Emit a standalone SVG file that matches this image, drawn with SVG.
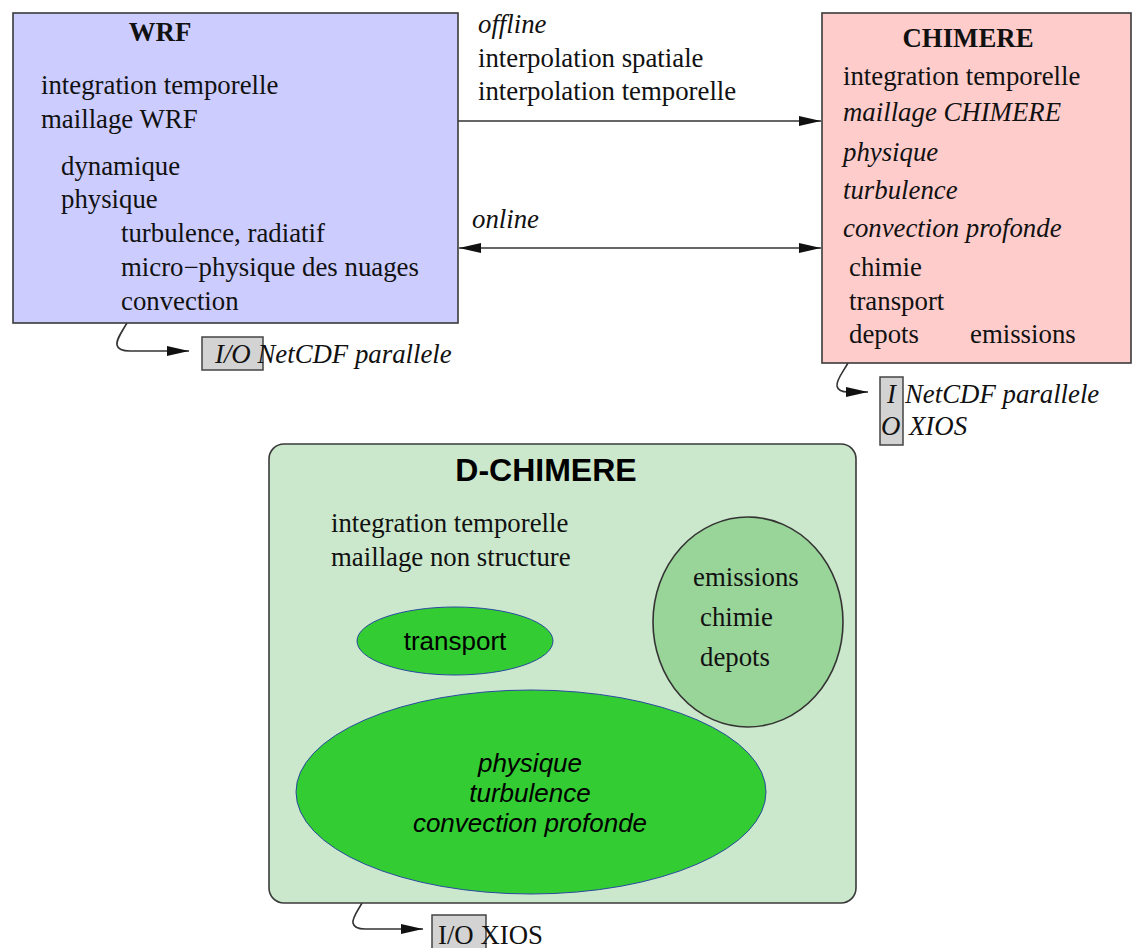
<svg xmlns="http://www.w3.org/2000/svg" width="1132" height="948" viewBox="0 0 1132 948">
<defs>
<style>
.box{stroke:#3a3a3a;stroke-width:1.6}
.serif{font-family:"Liberation Serif","Times New Roman",serif;font-size:26.8px;fill:#111}
.it{font-style:italic}
.bold{font-weight:bold}
.sans{font-family:"Liberation Sans",Arial,sans-serif;fill:#000}
.conn{fill:none;stroke:#333;stroke-width:1.6}
.io{fill:#d3d3d3;stroke:#444;stroke-width:1.5}
.green{fill:#33cc33;stroke:#2a4aa0;stroke-width:1}
</style>
<marker id="ah" viewBox="0 0 22 10" refX="22" refY="5" markerWidth="22" markerHeight="10" markerUnits="userSpaceOnUse" orient="auto-start-reverse">
<path d="M0,0 L22,5 L0,10 z" fill="#111"/>
</marker>
</defs>
<rect width="1132" height="948" fill="#fff"/>

<g id="connectors">
<line class="conn" x1="458" y1="121" x2="821" y2="121" marker-end="url(#ah)"/>
<line class="conn" x1="459" y1="248" x2="821" y2="248" marker-start="url(#ah)" marker-end="url(#ah)"/>
<path class="conn" d="M127,323 C121,333 116,340 117,345 C118,350 123,351 130,351 L189,351" marker-end="url(#ah)"/>
<path class="conn" d="M848,363 C843,372 836,380 837,386 C838,391 843,392 848,392 L868,392" marker-end="url(#ah)"/>
<path class="conn" d="M362,903 C357,912 352,918 353,923 C354,928 359,929 365,929 L423,929" marker-end="url(#ah)"/>
<text class="serif it" x="478" y="33">offline</text>
<text class="serif" x="478" y="67">interpolation spatiale</text>
<text class="serif" x="478" y="100">interpolation temporelle</text>
<text class="serif it" x="472" y="228">online</text>
</g>

<g id="wrf">
<rect class="box" x="13" y="13" width="445" height="310" fill="#ccccff"/>
<text class="serif bold" x="160" y="41" text-anchor="middle">WRF</text>
<text class="serif" x="41" y="94">integration temporelle</text>
<text class="serif" x="41" y="128">maillage WRF</text>
<text class="serif" x="61" y="175">dynamique</text>
<text class="serif" x="61" y="208">physique</text>
<text class="serif" x="121" y="242">turbulence, radiatif</text>
<text class="serif" x="121" y="276">micro−physique des nuages</text>
<text class="serif" x="121" y="310">convection</text>
</g>

<g id="wrf-io">
<rect class="io" x="202" y="337" width="61" height="33"/>
<text class="serif it" x="215" y="363">I/O NetCDF parallele</text>
</g>

<g id="chimere">
<rect class="box" x="822" y="13" width="309" height="350" fill="#ffcccc"/>
<text class="serif bold" x="968" y="47" text-anchor="middle">CHIMERE</text>
<text class="serif" x="843" y="85">integration temporelle</text>
<text class="serif it" x="843" y="121">maillage CHIMERE</text>
<text class="serif it" x="843" y="161">physique</text>
<text class="serif it" x="843" y="199">turbulence</text>
<text class="serif it" x="843" y="237">convection profonde</text>
<text class="serif" x="849" y="276">chimie</text>
<text class="serif" x="849" y="310">transport</text>
<text class="serif" x="849" y="343">depots</text>
<text class="serif" x="970" y="343">emissions</text>
</g>

<g id="chimere-io">
<rect class="io" x="880" y="377" width="23" height="68"/>
<text class="serif it" x="887" y="403">I</text>
<text class="serif it" x="905" y="403">NetCDF parallele</text>
<text class="serif it" x="881" y="435">O</text>
<text class="serif it" x="909" y="435">XIOS</text>
</g>

<g id="d-chimere">
<rect class="box" x="269" y="444" width="587" height="459" rx="15" ry="15" fill="#cce8cc"/>
<text class="sans bold" x="546" y="481" font-size="32" text-anchor="middle">D-CHIMERE</text>
<text class="serif" x="331" y="532">integration temporelle</text>
<text class="serif" x="331" y="566">maillage non structure</text>
</g>

<g id="transport">
<ellipse class="green" cx="455" cy="641" rx="98" ry="34"/>
<text class="sans" x="455" y="650" font-size="26" text-anchor="middle">transport</text>
</g>

<g id="emissions">
<ellipse cx="748" cy="622" rx="95" ry="105" fill="#99d499" stroke="#333" stroke-width="1.6"/>
<text class="serif" x="693" y="586">emissions</text>
<text class="serif" x="700" y="626">chimie</text>
<text class="serif" x="700" y="666">depots</text>
</g>

<g id="physique">
<ellipse class="green" cx="531" cy="792" rx="235" ry="102"/>
<text class="sans it" x="530" y="772" font-size="26" text-anchor="middle">physique</text>
<text class="sans it" x="530" y="802" font-size="26" text-anchor="middle">turbulence</text>
<text class="sans it" x="530" y="832" font-size="26" text-anchor="middle">convection profonde</text>
</g>

<g id="d-chimere-io">
<rect class="io" x="432" y="915" width="54" height="40"/>
<text class="serif" x="438" y="944">I/O XIOS</text>
</g>
</svg>
